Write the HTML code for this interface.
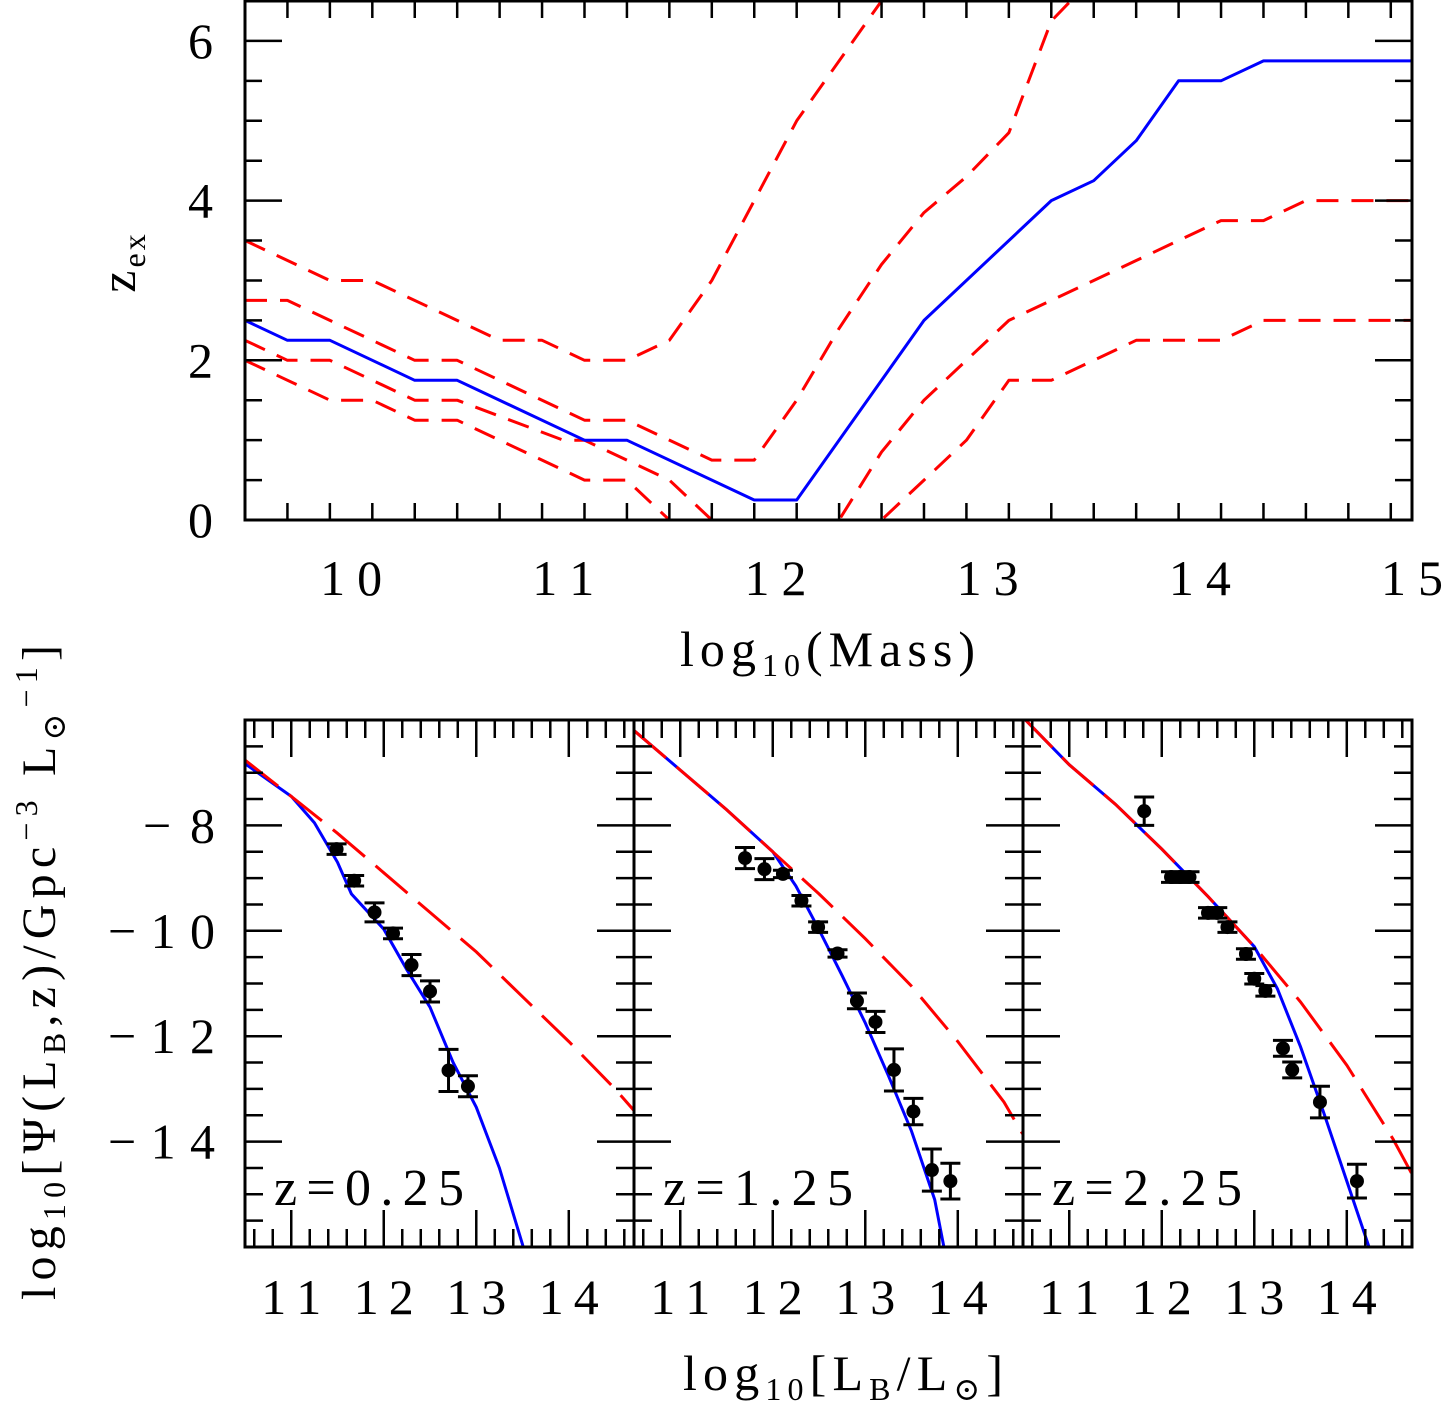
<!DOCTYPE html>
<html><head><meta charset="utf-8"><style>
html,body{margin:0;padding:0;background:#fff;}
svg{display:block;font-family:"Liberation Serif","DejaVu Serif",serif;}
</style></head><body>
<svg id="chart" width="1443" height="1406" viewBox="0 0 1443 1406" xmlns="http://www.w3.org/2000/svg">
<g id="top"></g>
<g id="bot"></g>
<text transform="translate(135,262) rotate(-90)" text-anchor="middle" font-size="50" letter-spacing="3">z<tspan font-size="32" dy="10">ex</tspan></text>
<text x="680" y="666" font-size="50" textLength="295" lengthAdjust="spacing">log<tspan font-size="32" dy="10">10</tspan><tspan dy="-10">(Mass)</tspan></text>
<text x="683" y="1390" font-size="50" textLength="320" lengthAdjust="spacing">log<tspan font-size="32" dy="10">10</tspan><tspan dy="-10">[L</tspan><tspan font-size="32" dy="10">B</tspan><tspan dy="-10">/L</tspan><tspan font-size="32" dy="10">⊙</tspan><tspan dy="-10">]</tspan></text>
<text transform="translate(55,1300) rotate(-90)" font-size="48" textLength="655" lengthAdjust="spacing">log<tspan font-size="32" dy="10">10</tspan><tspan dy="-10">[Ψ(L</tspan><tspan font-size="32" dy="10">B</tspan><tspan dy="-10">,z)/Gpc</tspan><tspan font-size="32" dy="-18">−3</tspan><tspan dy="18"> L</tspan><tspan font-size="32" dy="10">⊙</tspan><tspan font-size="32" dy="-28">−1</tspan><tspan dy="18">]</tspan></text>
</svg>
<script>
// ---- Top panel data ----
const topTicksX = [10, 11, 12, 13, 14, 15];
const topTicksY = [0, 2, 4, 6];
const blueMass = [9.5, 9.7, 9.9, 10.3, 10.5, 11.1, 11.3, 11.9, 12.1, 12.7, 13.3, 13.5, 13.7, 13.9, 14.1, 14.3, 15];
const blueZex  = [2.5, 2.25, 2.25, 1.75, 1.75, 1.0, 1.0, 0.25, 0.25, 2.5, 4.0, 4.25, 4.75, 5.5, 5.5, 5.75, 5.75];
const red1Mass = [9.5, 9.9, 10.1, 10.7, 10.9, 11.1, 11.3, 11.5, 11.7, 12.1, 12.5, 12.7];
const red1Zex  = [3.5, 3.0, 3.0, 2.25, 2.25, 2.0, 2.0, 2.25, 3.0, 5.0, 6.5, 7.3];
const red2Mass = [9.5, 9.7, 10.3, 10.5, 11.1, 11.3, 11.7, 11.9, 12.1, 12.3, 12.5, 12.7, 12.9, 13.1, 13.3, 13.5];
const red2Zex  = [2.75, 2.75, 2.0, 2.0, 1.25, 1.25, 0.75, 0.75, 1.5, 2.4, 3.2, 3.85, 4.3, 4.85, 6.25, 6.8];
const red3Mass = [9.5, 9.7, 9.9, 10.3, 10.5, 11.0, 11.1, 11.3, 11.5, 11.7, 11.8];
const red3Zex  = [2.25, 2.0, 2.0, 1.5, 1.5, 1.0, 1.0, 0.75, 0.5, 0.0, -0.3];
const red3bMass = [12.2, 12.3, 12.5, 12.7, 12.9, 13.1, 13.3, 13.5, 13.7, 13.9, 14.1, 14.3, 14.5, 15];
const red3bZex  = [-0.3, 0.0, 0.85, 1.5, 2.0, 2.5, 2.75, 3.0, 3.25, 3.5, 3.75, 3.75, 4.0, 4.0];
const red4Mass = [9.5, 9.9, 10.1, 10.3, 10.5, 11.1, 11.3, 11.5, 11.6];
const red4Zex  = [2.0, 1.5, 1.5, 1.25, 1.25, 0.5, 0.5, 0.0, -0.3];
const red4bMass = [12.4, 12.5, 12.7, 12.9, 13.1, 13.3, 13.5, 13.7, 14.1, 14.3, 15];
const red4bZex  = [-0.3, 0.0, 0.5, 1.0, 1.75, 1.75, 2.0, 2.25, 2.25, 2.5, 2.5];

// ---- Bottom panels data ----
const botTicksX = [11, 12, 13, 14];
const botTicksY = [-8, -10, -12, -14];
const panelLabels = ["z=0.25", "z=1.25", "z=2.25"];
const p1ModelL = [10.5, 11, 11.25, 11.5, 11.65, 12, 12.25, 12.5, 12.75, 13, 13.25, 13.5, 13.55];
const p1ModelPsi = [-6.83, -7.45, -7.95, -8.7, -9.3, -9.97, -10.74, -11.45, -12.5, -13.35, -14.5, -15.95, -16.3];
const p1RedL = [10.5, 11, 11.5, 12, 12.5, 13, 13.5, 14, 14.5, 14.7];
const p1RedPsi = [-6.76, -7.45, -8.15, -8.9, -9.65, -10.4, -11.25, -12.1, -13.0, -13.4];
const p1DataL = [11.49, 11.68, 11.9, 12.1, 12.3, 12.5, 12.7, 12.91];
const p1DataPsi = [-8.45, -9.05, -9.65, -10.05, -10.65, -11.15, -12.65, -12.95];
const p1DataErr = [0.1, 0.1, 0.18, 0.1, 0.2, 0.2, 0.4, 0.2];
const p2ModelL = [10.5, 11, 11.5, 12, 12.25, 12.5, 12.75, 13, 13.25, 13.5, 13.75, 13.85, 13.9];
const p2ModelPsi = [-6.2, -6.95, -7.7, -8.5, -9.15, -9.98, -10.85, -11.75, -12.75, -13.8, -15.1, -16.0, -16.3];
const p2RedL = [10.5, 11, 11.5, 12, 12.5, 13, 13.5, 14, 14.5, 14.7];
const p2RedPsi = [-6.2, -6.95, -7.7, -8.5, -9.3, -10.15, -11.05, -12.1, -13.25, -13.85];
const p2DataL = [11.7, 11.91, 12.11, 12.31, 12.49, 12.7, 12.91, 13.11, 13.31, 13.52, 13.72, 13.92];
const p2DataPsi = [-8.62, -8.83, -8.92, -9.43, -9.93, -10.43, -11.33, -11.73, -12.64, -13.43, -14.54, -14.75];
const p2DataErr = [0.2, 0.2, 0.07, 0.1, 0.1, 0.07, 0.15, 0.2, 0.4, 0.25, 0.4, 0.34];
const p3ModelL = [10.5, 11, 11.5, 12, 12.5, 13, 13.25, 13.5, 13.75, 14, 14.25, 14.3];
const p3ModelPsi = [-5.95, -6.85, -7.6, -8.45, -9.35, -10.3, -11.1, -12.2, -13.45, -14.75, -16.05, -16.3];
const p3RedL = [10.5, 11, 11.5, 12, 12.5, 13, 13.5, 14, 14.5, 14.7];
const p3RedPsi = [-5.95, -6.85, -7.6, -8.45, -9.35, -10.3, -11.35, -12.55, -13.95, -14.6];
const p3DataL = [11.81, 12.1, 12.2, 12.3, 12.5, 12.6, 12.71, 12.91, 13.0, 13.12, 13.31, 13.41, 13.71, 14.11];
const p3DataPsi = [-7.73, -8.98, -8.98, -8.98, -9.66, -9.66, -9.93, -10.44, -10.91, -11.14, -12.23, -12.64, -13.25, -14.75];
const p3DataErr = [0.27, 0.1, 0.1, 0.1, 0.1, 0.1, 0.1, 0.1, 0.1, 0.1, 0.15, 0.15, 0.3, 0.32];

const NS = "http://www.w3.org/2000/svg";
function mk(parent, tag, attrs) {
  const el = document.createElementNS(NS, tag);
  for (const k in attrs) el.setAttribute(k, attrs[k]);
  parent.appendChild(el);
  return el;
}

// ---------- top panel ----------
const T = {x0: 245, x1: 1412, y0: 520, y1: 1, xmin: 9.5, xmax: 15, ymin: 0, ymax: 6.5};
const tx = v => T.x0 + (v - T.xmin) / (T.xmax - T.xmin) * (T.x1 - T.x0);
const ty = v => T.y0 - (v - T.ymin) / (T.ymax - T.ymin) * (T.y0 - T.y1);
const topG = document.getElementById('top');
const topClip = mk(topG, 'clipPath', {id: 'tclip'});
mk(topClip, 'rect', {x: T.x0, y: T.y1, width: T.x1 - T.x0, height: T.y0 - T.y1});
const topPlot = mk(topG, 'g', {'clip-path': 'url(#tclip)'});
function topLine(xs, ys, color, dash, name) {
  const d = xs.map((x, i) => (i ? 'L' : 'M') + tx(x).toFixed(1) + ',' + ty(ys[i]).toFixed(1)).join(' ');
  const p = mk(topPlot, 'path', {d: d, fill: 'none', stroke: color, 'stroke-width': 3, 'stroke-dasharray': dash, 'stroke-linejoin': 'round'});
  
  
}
const rdash = '22 13';
topLine(red1Mass, red1Zex, '#ff0000', rdash, 'red-dashed-line-1');
topLine(red2Mass, red2Zex, '#ff0000', rdash, 'red-dashed-line-2');
topLine(red3Mass, red3Zex, '#ff0000', rdash, 'red-dashed-line-3');
topLine(red3bMass, red3bZex, '#ff0000', rdash, 'red-dashed-line-3-high');
topLine(red4Mass, red4Zex, '#ff0000', rdash, 'red-dashed-line-4');
topLine(red4bMass, red4bZex, '#ff0000', rdash, 'red-dashed-line-4-high');
topLine(blueMass, blueZex, '#0000ff', 'none', 'blue-solid-line');
const tickG = mk(topG, 'g', {stroke: '#000', 'stroke-width': 2.5});
for (let k = 0; k <= 55; k += 2) {
  const v = 9.5 + k * 0.1;
  const major = Math.abs(v - Math.round(v)) < 0.01;
  const L = major ? 37 : 17;
  const x = tx(v);
  mk(tickG, 'line', {x1: x, x2: x, y1: T.y0, y2: T.y0 - L});
  mk(tickG, 'line', {x1: x, x2: x, y1: T.y1, y2: T.y1 + L});
}
for (let v = 0; v <= 6.5; v += 0.5) {
  const major = Math.abs(v % 2) < 0.01;
  const L = major ? 37 : 17;
  const y = ty(v);
  mk(tickG, 'line', {x1: T.x0, x2: T.x0 + L, y1: y, y2: y});
  mk(tickG, 'line', {x1: T.x1, x2: T.x1 - L, y1: y, y2: y});
}
const tf = mk(topG, 'rect', {x: T.x0, y: T.y1, width: T.x1 - T.x0, height: T.y0 - T.y1, fill: 'none', stroke: '#000', 'stroke-width': 3});


topTicksX.forEach(v => {
  const t = mk(topG, 'text', {x: tx(v) - 31, y: 595, 'font-size': 50, textLength: 62, lengthAdjust: 'spacing'});
  t.textContent = v;
  
  
});
topTicksY.forEach(v => {
  const t = mk(topG, 'text', {x: 213, y: ty(v) + 17, 'text-anchor': 'end', 'font-size': 50});
  t.textContent = v;
  
  
});

// ---------- bottom panels ----------
const B = {y0: 1247, y1: 720, ymin: -16, ymax: -6, xmin: 10.5, xmax: 14.705, w: 389};
const panelLefts = [245, 634, 1023];
const panels = [
  [p1ModelL, p1ModelPsi, p1RedL, p1RedPsi, p1DataL, p1DataPsi, p1DataErr],
  [p2ModelL, p2ModelPsi, p2RedL, p2RedPsi, p2DataL, p2DataPsi, p2DataErr],
  [p3ModelL, p3ModelPsi, p3RedL, p3RedPsi, p3DataL, p3DataPsi, p3DataErr]
];
const botG = document.getElementById('bot');
const by = v => B.y0 - (v - B.ymin) / (B.ymax - B.ymin) * (B.y0 - B.y1);
panels.forEach((P, i) => {
  const left = panelLefts[i];
  const bx = v => left + (v - B.xmin) / (B.xmax - B.xmin) * B.w;
  const g = mk(botG, 'g', {});
  
  
  const cp = mk(g, 'clipPath', {id: 'bclip' + i});
  mk(cp, 'rect', {x: left, y: B.y1, width: B.w, height: B.y0 - B.y1});
  const plot = mk(g, 'g', {'clip-path': 'url(#bclip' + i + ')'});
  const path = (xs, ys) => xs.map((x, k) => (k ? 'L' : 'M') + bx(x).toFixed(1) + ',' + by(ys[k]).toFixed(1)).join(' ');
  const blue = mk(plot, 'path', {d: path(P[0], P[1]), fill: 'none', stroke: '#0000ff', 'stroke-width': 3});
  
  
  const red = mk(plot, 'path', {d: path(P[2], P[3]), fill: 'none', stroke: '#ff0000', 'stroke-width': 3, 'stroke-dasharray': '42 14'});
  
  
  P[4].forEach((L, k) => {
    const x = bx(L), y = by(P[5][k]);
    const yt = by(P[5][k] + P[6][k]), yb = by(P[5][k] - P[6][k]);
    const pg = mk(plot, 'g', {stroke: '#000', 'stroke-width': 3});
    
    
    mk(pg, 'line', {x1: x, x2: x, y1: yt, y2: yb});
    mk(pg, 'line', {x1: x - 10, x2: x + 10, y1: yt, y2: yt});
    mk(pg, 'line', {x1: x - 10, x2: x + 10, y1: yb, y2: yb});
    mk(pg, 'circle', {cx: x, cy: y, r: 7, fill: '#000', stroke: 'none'});
  });
  const tg = mk(g, 'g', {stroke: '#000', 'stroke-width': 2.5});
  for (let k = 0; k <= 40; k += 2) {
    const v = 10.6 + k * 0.1;
    if (v > 14.69) break;
    const major = Math.abs(v - Math.round(v)) < 0.01;
    const L = major ? 37 : 18;
    const x = bx(v);
    mk(tg, 'line', {x1: x, x2: x, y1: B.y0, y2: B.y0 - L});
    mk(tg, 'line', {x1: x, x2: x, y1: B.y1, y2: B.y1 + L});
  }
  for (let v = -16; v <= -6; v += 0.5) {
    const major = Math.abs(v % 2) < 0.01;
    const L = major ? 37 : 18;
    const y = by(v);
    mk(tg, 'line', {x1: left, x2: left + L, y1: y, y2: y});
    mk(tg, 'line', {x1: left + B.w, x2: left + B.w - L, y1: y, y2: y});
  }
  const fr = mk(g, 'rect', {x: left, y: B.y1, width: B.w, height: B.y0 - B.y1, fill: 'none', stroke: '#000', 'stroke-width': 3});
  
  
  const lab = mk(g, 'text', {x: left + 29, y: 1205, 'font-size': 52, textLength: 190, lengthAdjust: 'spacing'});
  lab.textContent = panelLabels[i];
  
  
  botTicksX.forEach(v => {
    const t = mk(g, 'text', {x: bx(v) - 30, y: 1314, 'font-size': 50, textLength: 60, lengthAdjust: 'spacing'});
    t.textContent = v;
    
    
  });
});
botTicksY.forEach(v => {
  const s = '−' + Math.abs(v);
  const w = s.length === 2 ? 72 : 107;
  const t = mk(botG, 'text', {x: 215 - w, y: by(v) + 17, 'font-size': 50, textLength: w, lengthAdjust: 'spacing'});
  t.textContent = s;
  
  
});
</script>
</body></html>
